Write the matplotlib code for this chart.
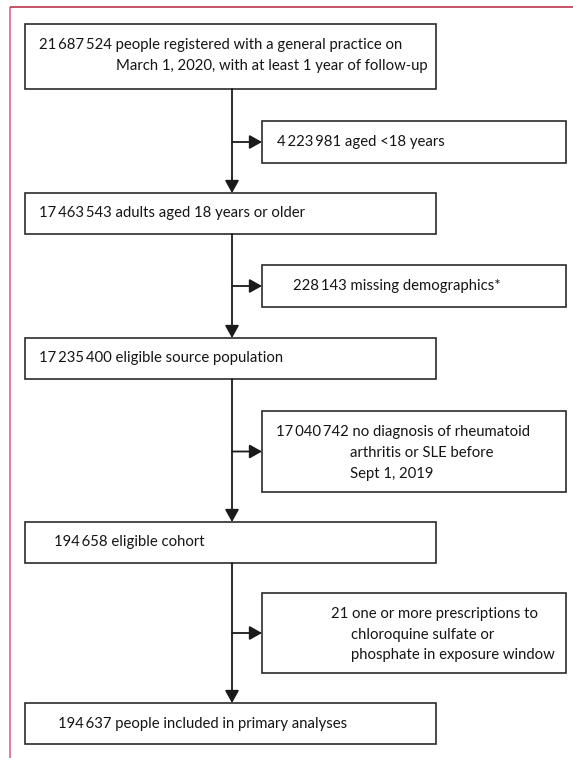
import matplotlib
matplotlib.use("Agg")
import matplotlib.pyplot as plt
from matplotlib.patches import Rectangle

plt.rcParams['font.family'] = ['Lato', 'DejaVu Sans']

T = "\u2009"  # thin space used as thousands separator

# Main flow boxes (counts and labels)
main_counts = ["21" + T + "687" + T + "524", "17" + T + "463" + T + "543",
               "17" + T + "235" + T + "400", "194" + T + "658",
               "194" + T + "637"]
main_labels = [["people registered with a general practice on",
                "March 1, 2020, with at least 1 year of follow-up"],
               ["adults aged 18 years or older"],
               ["eligible source population"],
               ["eligible cohort"],
               ["people included in primary analyses"]]

# Exclusion boxes
excl_counts = ["4" + T + "223" + T + "981", "228" + T + "143",
               "17" + T + "040" + T + "742", "21"]
excl_labels = [["aged <18 years"],
               ["missing demographics*"],
               ["no diagnosis of rheumatoid", "arthritis or SLE before",
                "Sept 1, 2019"],
               ["one or more prescriptions to", "chloroquine sulfate or",
                "phosphate in exposure window"]]

# layout (pixel coordinates, y downward)
W, H = 573, 758
main_x0, main_x1 = 25, 436
side_x0, side_x1 = 262, 566
spine_x = 232
main_y = [(24, 89), (193, 234), (338, 379), (522, 563), (703, 744)]
side_y = [(121, 163), (265, 307), (411, 492), (593, 673)]
main_text_x = [39, 39, 39, 54, 58]
main_text_y = [[45, 66], [213], [358], [542], [724]]
side_count_x = [277, 293, 276, 331]
side_text_x = [None, None, 350, 351]
side_text_y = [[142], [286], [432, 453, 474], [614, 635, 655]]
fs = 10.7
txt_color = '#151515'
box_color = '#2b2b2b'

fig = plt.figure(figsize=(W / 100, H / 100), dpi=100)
ax = fig.add_axes([0, 0, 1, 1])
ax.set_xlim(0, W)
ax.set_ylim(H, 0)
ax.axis('off')

# page frame
ax.plot([10, 10], [7, H], color='#d4578a', lw=1.1, solid_capstyle='butt')
ax.plot([10, W], [7, 7], color='#b3263f', lw=1.1, solid_capstyle='butt')


def draw_box(x0, x1, y0, y1):
  ax.add_patch(Rectangle((x0, y0), x1 - x0, y1 - y0, fill=False,
                         ec=box_color, lw=1.2))


def arrow(x0, y0, x1, y1):
  ax.annotate('', xy=(x1, y1), xytext=(x0, y0),
              arrowprops=dict(arrowstyle='-|>,head_length=0.75,head_width=0.42',
                              lw=1.3, color='#1a1a1a', shrinkA=0, shrinkB=0))


for i, (y0, y1) in enumerate(main_y):
  draw_box(main_x0, main_x1, y0, y1)
  lines = main_labels[i]
  ax.text(main_text_x[i], main_text_y[i][0], main_counts[i] + " " + lines[0],
          fontsize=fs, va='center', ha='left', color=txt_color)
  if len(lines) > 1:
    # second line of the first box is indented
    ax.text(116, main_text_y[i][1], lines[1],
            fontsize=fs, va='center', ha='left', color=txt_color)

for i, (y0, y1) in enumerate(side_y):
  draw_box(side_x0, side_x1, y0, y1)
  lines = excl_labels[i]
  ax.text(side_count_x[i], side_text_y[i][0], excl_counts[i] + " " + lines[0],
          fontsize=fs, va='center', ha='left', color=txt_color)
  for j in range(1, len(lines)):
    ax.text(side_text_x[i], side_text_y[i][j], lines[j],
            fontsize=fs, va='center', ha='left', color=txt_color)

# vertical spine arrows
for i in range(len(main_y) - 1):
  arrow(spine_x, main_y[i][1], spine_x, main_y[i + 1][0])

# side arrows
for (y0, y1) in side_y:
  ym = (y0 + y1) / 2
  arrow(spine_x, ym, side_x0, ym)

fig.savefig("out.png", dpi=100)
